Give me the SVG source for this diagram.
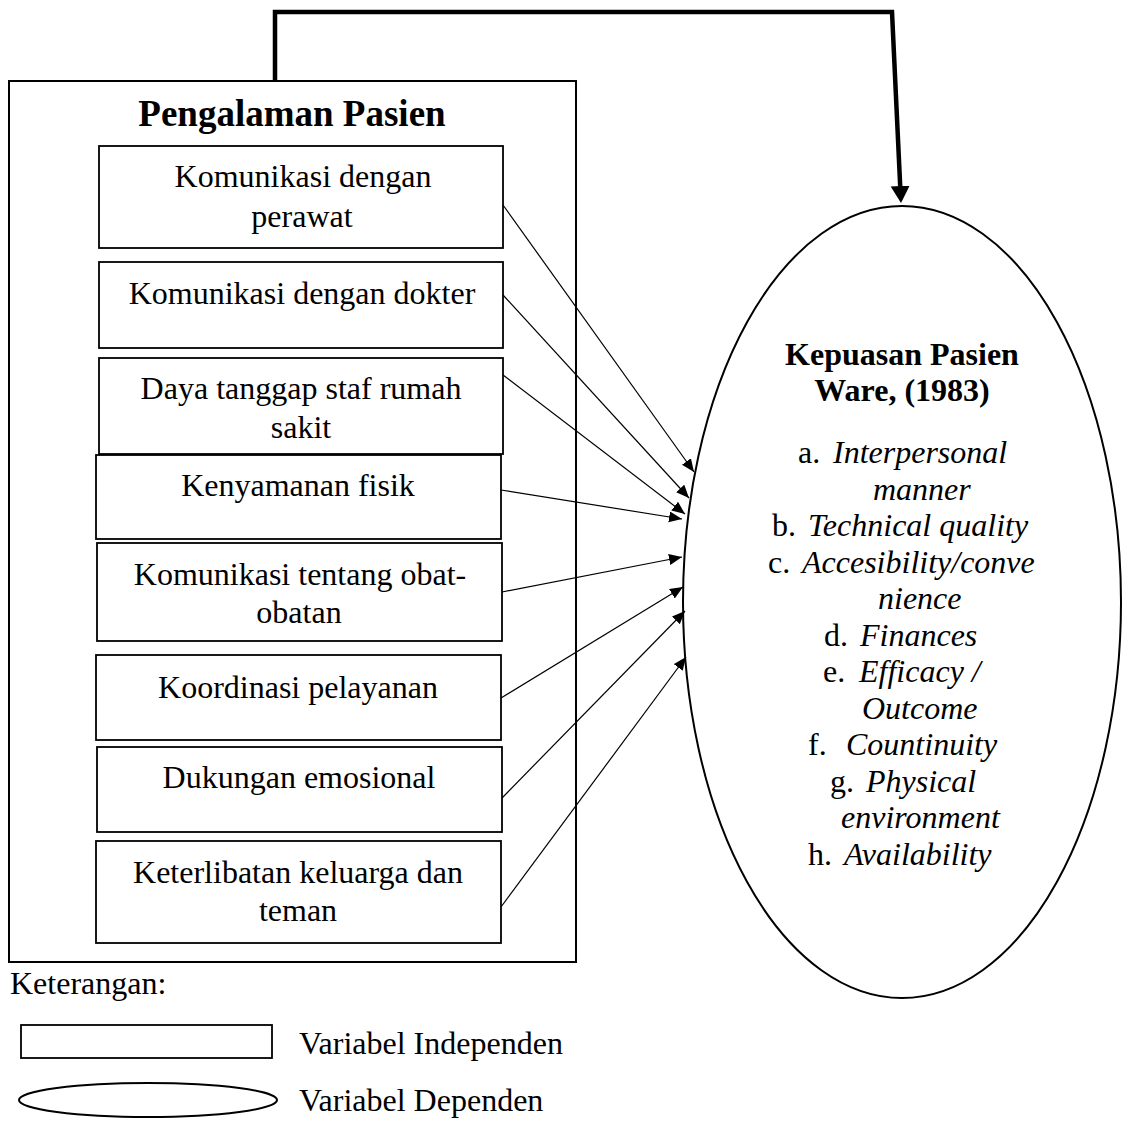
<svg xmlns="http://www.w3.org/2000/svg" width="1122" height="1122" viewBox="0 0 1122 1122">
<style>
  .box { fill: #fff; stroke: #000; stroke-width: 1.8; }
  .outer { fill: none; stroke: #000; stroke-width: 2; }
  .ell { fill: none; stroke: #000; stroke-width: 2; }
  .t { font-family: "Liberation Serif", "Times New Roman", serif; font-size: 32px; fill: #000; }
  .c { text-anchor: middle; }
  .b { font-weight: bold; }
  .i { font-style: italic; }
  .title { font-size: 37px; }
  .thin { fill: none; stroke: #000; stroke-width: 1.2; }
  .thick { fill: none; stroke: #000; stroke-width: 4.5; stroke-linejoin: miter; }
</style>
<defs>
  <marker id="ah" markerUnits="userSpaceOnUse" markerWidth="14" markerHeight="12" refX="13" refY="5.5" orient="auto">
    <path d="M0,0 L13,5.5 L0,11 z" fill="#000"/>
  </marker>
  <marker id="ahBig" markerUnits="userSpaceOnUse" markerWidth="18" markerHeight="20" refX="0" refY="9.5" orient="auto">
    <path d="M0,0 L17,9.5 L0,19 z" fill="#000"/>
  </marker>
</defs>
<rect width="1122" height="1122" fill="#fff"/>

<g id="pengalaman-pasien">
  <rect class="outer" x="9" y="81" width="567" height="881"/>
  <text class="t b title c" x="292" y="126">Pengalaman Pasien</text>
</g>

<g id="komunikasi-perawat">
  <rect class="box" x="99" y="146" width="404" height="102"/>
  <text class="t c" x="303" y="187">Komunikasi dengan</text>
  <text class="t c" x="302" y="227">perawat</text>
</g>
<g id="komunikasi-dokter">
  <rect class="box" x="99" y="262" width="404" height="86"/>
  <text class="t c" x="302" y="304">Komunikasi dengan dokter</text>
</g>
<g id="daya-tanggap">
  <rect class="box" x="99" y="358" width="404" height="96"/>
  <text class="t c" x="301" y="399">Daya tanggap staf rumah</text>
  <text class="t c" x="301" y="438">sakit</text>
</g>
<g id="kenyamanan-fisik">
  <rect class="box" x="96" y="455" width="405" height="84"/>
  <text class="t c" x="298" y="496">Kenyamanan fisik</text>
</g>
<g id="komunikasi-obat">
  <rect class="box" x="97" y="543" width="405" height="98"/>
  <text class="t c" x="300" y="585">Komunikasi tentang obat-</text>
  <text class="t c" x="299" y="623">obatan</text>
</g>
<g id="koordinasi-pelayanan">
  <rect class="box" x="96" y="655" width="405" height="85"/>
  <text class="t c" x="298" y="698">Koordinasi pelayanan</text>
</g>
<g id="dukungan-emosional">
  <rect class="box" x="97" y="747" width="405" height="85"/>
  <text class="t c" x="299" y="788">Dukungan emosional</text>
</g>
<g id="keterlibatan-keluarga">
  <rect class="box" x="96" y="841" width="405" height="102"/>
  <text class="t c" x="298" y="883">Keterlibatan keluarga dan</text>
  <text class="t c" x="298" y="921">teman</text>
</g>

<g id="kepuasan-pasien">
  <ellipse class="ell" cx="902" cy="602" rx="219" ry="396"/>
  <text class="t b c" x="902" y="365">Kepuasan Pasien</text>
  <text class="t b c" x="902" y="401">Ware, (1983)</text>
  <text class="t" x="798" y="463">a.</text>
  <text class="t i" x="833" y="463">Interpersonal</text>
  <text class="t i" x="873" y="499.5">manner</text>
  <text class="t" x="772" y="536">b.</text>
  <text class="t i" x="808" y="536">Technical quality</text>
  <text class="t" x="768" y="572.5">c.</text>
  <text class="t i" x="802" y="572.5">Accesibility/conve</text>
  <text class="t i" x="878" y="609">nience</text>
  <text class="t" x="824" y="645.5">d.</text>
  <text class="t i" x="860" y="645.5">Finances</text>
  <text class="t" x="823" y="682">e.</text>
  <text class="t i" x="859" y="682">Efficacy /</text>
  <text class="t i" x="862" y="718.5">Outcome</text>
  <text class="t" x="808" y="755">f.</text>
  <text class="t i" x="846" y="755">Countinuity</text>
  <text class="t" x="830" y="791.5">g.</text>
  <text class="t i" x="866" y="791.5">Physical</text>
  <text class="t i" x="841" y="828">environment</text>
  <text class="t" x="808" y="864.5">h.</text>
  <text class="t i" x="844" y="864.5">Availability</text>
</g>

<g id="connectors">
  <polyline class="thick" points="275,81 275,12 892,12 900.2,186" marker-end="url(#ahBig)"/>
  <line class="thin" x1="503" y1="205" x2="694" y2="472" marker-end="url(#ah)"/>
  <line class="thin" x1="503" y1="295" x2="689" y2="498" marker-end="url(#ah)"/>
  <line class="thin" x1="503" y1="375" x2="685" y2="514" marker-end="url(#ah)"/>
  <line class="thin" x1="501" y1="490" x2="682" y2="519" marker-end="url(#ah)"/>
  <line class="thin" x1="502" y1="592" x2="682" y2="557" marker-end="url(#ah)"/>
  <line class="thin" x1="501" y1="698" x2="683" y2="587" marker-end="url(#ah)"/>
  <line class="thin" x1="502" y1="798" x2="685" y2="611" marker-end="url(#ah)"/>
  <line class="thin" x1="501" y1="907" x2="686" y2="657" marker-end="url(#ah)"/>
</g>

<g id="legend">
  <text class="t" x="10" y="994">Keterangan:</text>
  <rect class="box" x="21" y="1025" width="251" height="33"/>
  <text class="t" x="299" y="1054">Variabel Independen</text>
  <ellipse class="ell" cx="148" cy="1100" rx="129" ry="17"/>
  <text class="t" x="299" y="1111">Variabel Dependen</text>
</g>
</svg>
